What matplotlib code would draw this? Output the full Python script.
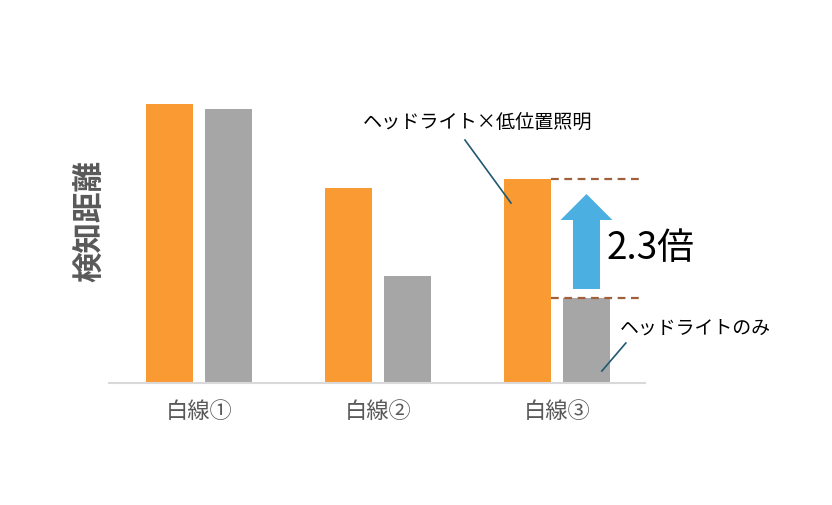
import matplotlib
matplotlib.use("Agg")
import matplotlib.pyplot as plt
from matplotlib.patches import FancyArrow

plt.rcParams["font.family"] = ["Noto Sans CJK JP", "DejaVu Sans"]

# data (detection distance, arbitrary units)
categories = ["白線①", "白線②", "白線③"]
low_light = [279, 195, 204]     # ヘッドライト×低位置照明
head_only = [274, 107, 85]      # ヘッドライトのみ
ratio_label = "2.3倍"

ORANGE = "#F99A33"
GRAY = "#A6A6A6"
BLUE = "#4BAFE1"
DASH = "#A0603C"
TEXT = "#595959"

W, H = 832, 505
fig = plt.figure(figsize=(W / 100, H / 100), dpi=100)
ax = fig.add_axes([109 / W, (H - 383) / H, (645 - 109) / W, 300 / H])
ax.set_xlim(-0.503, 2.492)
ax.set_ylim(0, 300)

bw = 0.262
off = 0.165
xs = list(range(len(categories)))
ax.bar([x - off for x in xs], low_light, width=bw, color=ORANGE, zorder=2)
ax.bar([x + off for x in xs], head_only, width=bw, color=GRAY, zorder=2)

for s in ["top", "right", "left"]:
    ax.spines[s].set_visible(False)
ax.spines["bottom"].set_color("#D9D9D9")
ax.spines["bottom"].set_linewidth(1.5)
ax.set_yticks([])
ax.set_xticks(xs)
ax.set_xticklabels(categories, fontsize=16, color=TEXT)
ax.tick_params(axis="x", length=0, pad=12)

# dashed guide lines on the third group
x0 = xs[2] - off + bw / 2
ax.plot([x0, 2.48], [low_light[2]] * 2, ls=(0, (3.5, 2.5)), lw=1.6, color=DASH, zorder=3)
ax.plot([x0, 2.48], [head_only[2]] * 2, ls=(0, (3.5, 2.5)), lw=1.6, color=DASH, zorder=3)

# up arrow between the two levels
ax_x = xs[2] + off
y_start = head_only[2] + 9
y_len = low_light[2] - 15 - y_start
ax.add_patch(FancyArrow(ax_x, y_start, 0, y_len, width=0.151, head_width=0.29,
                        head_length=26, length_includes_head=True,
                        color=BLUE, lw=0, zorder=3))
ax.text(2.279, 134, ratio_label, fontsize=26.5, color="black", va="center", ha="left")

# callouts
ax.text(1.559, 261, "ヘッドライト×低位置照明", fontsize=13.8, color="black",
        ha="center", va="center")
ax.plot([1.486, 1.743], [243, 180], color="#1F5A72", lw=1.2, zorder=4)
ax.text(2.352, 55, "ヘッドライトのみ", fontsize=13.6, color="black",
        ha="left", va="center")
ax.plot([2.385, 2.251], [40, 12], color="#1F5A72", lw=1.2, zorder=4)

fig.text(90 / W, (H - 221) / H, "検知距離", rotation=90, fontsize=22,
         fontweight="bold", color=TEXT, ha="center", va="center")

fig.savefig("out.png", dpi=100, facecolor="white")
